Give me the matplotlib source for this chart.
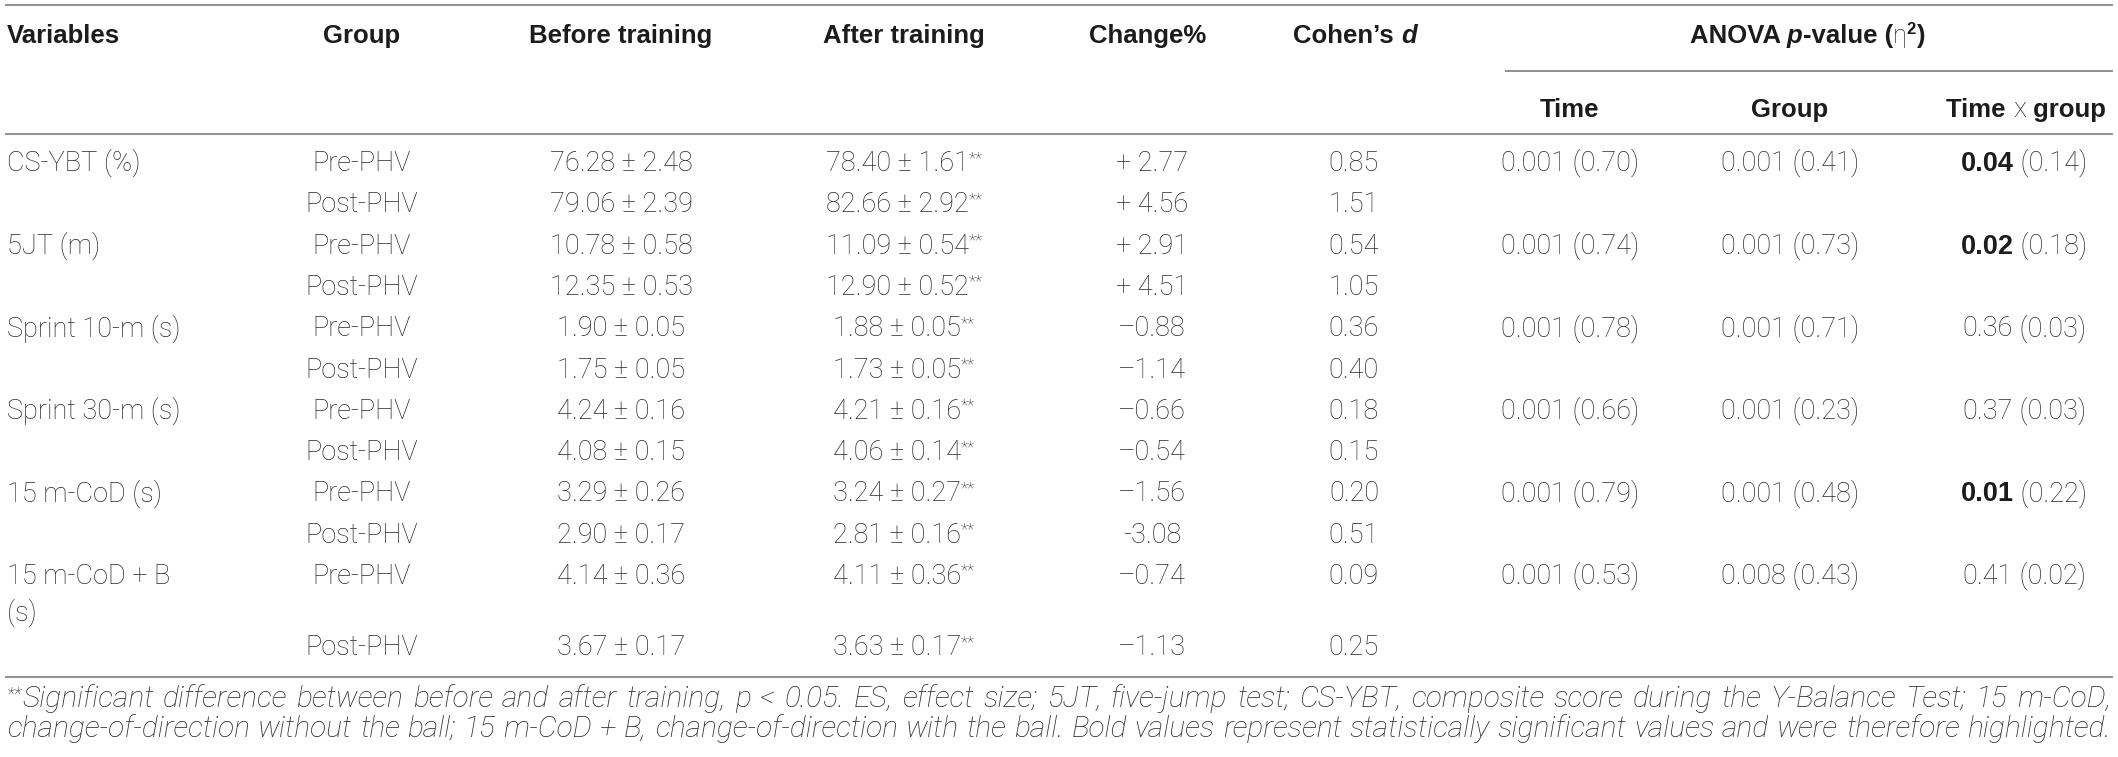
import matplotlib.pyplot as plt
from matplotlib.lines import Line2D

# table content
variables = ['CS-YBT (%)', '5JT (m)', 'Sprint 10-m (s)', 'Sprint 30-m (s)',
             '15 m-CoD (s)', '15 m-CoD + B']
groups = ['Pre-PHV', 'Post-PHV']
before = ['76.28 ± 2.48', '79.06 ± 2.39', '10.78 ± 0.58', '12.35 ± 0.53',
          '1.90 ± 0.05', '1.75 ± 0.05', '4.24 ± 0.16', '4.08 ± 0.15',
          '3.29 ± 0.26', '2.90 ± 0.17', '4.14 ± 0.36', '3.67 ± 0.17']
after = ['78.40 ± 1.61', '82.66 ± 2.92', '11.09 ± 0.54', '12.90 ± 0.52',
         '1.88 ± 0.05', '1.73 ± 0.05', '4.21 ± 0.16', '4.06 ± 0.14',
         '3.24 ± 0.27', '2.81 ± 0.16', '4.11 ± 0.36', '3.63 ± 0.17']
change = ['+ 2.77', '+ 4.56', '+ 2.91', '+ 4.51', '–0.88', '–1.14',
          '–0.66', '–0.54', '–1.56', '-3.08', '–0.74', '–1.13']
cohen_d = ['0.85', '1.51', '0.54', '1.05', '0.36', '0.40',
           '0.18', '0.15', '0.20', '0.51', '0.09', '0.25']
p_time = ['0.001 (0.70)', '0.001 (0.74)', '0.001 (0.78)', '0.001 (0.66)',
          '0.001 (0.79)', '0.001 (0.53)']
p_group = ['0.001 (0.41)', '0.001 (0.73)', '0.001 (0.71)', '0.001 (0.23)',
           '0.001 (0.48)', '0.008 (0.43)']
p_inter = ['0.04', '0.02', '0.36', '0.37', '0.01', '0.41']
eta_inter = ['(0.14)', '(0.18)', '(0.03)', '(0.03)', '(0.22)', '(0.02)']
inter_bold = [True, True, False, False, True, False]

footnote = [
    '**Significant difference between before and after training, p < 0.05. ES, effect size; '
    '5JT, five-jump test; CS-YBT, composite score during the Y-Balance Test; 15 m-CoD,',
    'change-of-direction without the ball; 15 m-CoD + B, change-of-direction with the ball. '
    'Bold values represent statistically significant values and were therefore highlighted.',
]

W, H = 2118, 757
fig = plt.figure(figsize=(W / 100, H / 100), dpi=100)
fig.patch.set_facecolor('white')
renderer = fig.canvas.get_renderer()

LIGHT = ['Roboto', 'DejaVu Sans']
BODY = dict(family=LIGHT, weight='light', size=17.5, color='#2a2a2a')
BOLD = dict(family=['Liberation Sans', 'DejaVu Sans'], weight='bold', size=18.5, color='#1c1c1c')


def tw(s, st):
    # width incl. spaces, measured between two bars
    t = fig.text(0, 0, '|' + s + '|', **st)
    w = t.get_window_extent(renderer).width
    t.set_text('||')
    w -= t.get_window_extent(renderer).width
    t.remove()
    return w


# match body text width to the reference ("0.001 (0.70)" is about 138 px wide)
BODY['size'] = BODY['size'] * 138 / tw('0.001 (0.70)', BODY)
BOLDIT = dict(BOLD, style='italic')
SUP = dict(BODY, size=BODY['size'] * 0.62)
BSUP = dict(BOLD, size=12)

# footnote: largest size for which both lines fit with normal word spacing
x0, x1 = 7, 2111
fsize = 22.0
while True:
    FOOT = dict(family=LIGHT, weight='light', style='italic', size=fsize, color='#2a2a2a')
    if max(tw(l, FOOT) for l in footnote) <= (x1 - x0) - 4:
        break
    fsize -= 0.2
FSUP = dict(FOOT, size=fsize * 0.62)


def runs_width(runs):
    return sum(tw(s, st) for s, st, _ in runs)


def draw_runs(x, y, runs, align='center'):
    total = runs_width(runs)
    if align == 'center':
        x = x - total / 2
    for s, st, rise in runs:
        fig.text(x / W, 1 - (y - rise) / H, s, ha='left', va='baseline', **st)
        x += tw(s, st)


def hline(y, xa=6, xb=2112):
    fig.add_artist(Line2D([xa / W, xb / W], [1 - y / H, 1 - y / H],
                          color='#8f8f8f', lw=1.4))


# rules
hline(5)
hline(71, 1506, 2112)
hline(134)
hline(677)

# header
hy = 43
draw_runs(7, hy, [('Variables', BOLD, 0)], align='left')
draw_runs(362, hy, [('Group', BOLD, 0)])
draw_runs(621, hy, [('Before training', BOLD, 0)])
draw_runs(904, hy, [('After training', BOLD, 0)])
draw_runs(1148, hy, [('Change%', BOLD, 0)])
draw_runs(1355, hy, [('Cohen’s ', BOLD, 0), ('d', BOLDIT, 0)])
draw_runs(1807, hy, [('ANOVA ', BOLD, 0), ('p', BOLDIT, 0), ('-value (', BOLD, 0),
                     ('η', dict(BODY, size=18.5), 0), ('2', BSUP, 9), (')', BOLD, 0)])
sy = 117
draw_runs(1570, sy, [('Time', BOLD, 0)])
draw_runs(1790, sy, [('Group', BOLD, 0)])
draw_runs(2026, sy, [('Time ', BOLD, 0), ('x', BODY, 0), (' group', BOLD, 0)])

# body rows
row_y = [171 + 41.3 * i for i in range(11)] + [655]
for i, yb in enumerate(row_y):
    v = i // 2
    if i % 2 == 0:
        draw_runs(7, yb, [(variables[v], BODY, 0)], align='left')
        if v == len(variables) - 1:
            draw_runs(7, 621, [('(s)', BODY, 0)], align='left')
        draw_runs(1570, yb, [(p_time[v], BODY, 0)])
        draw_runs(1790, yb, [(p_group[v], BODY, 0)])
        pst = BOLD if inter_bold[v] else BODY
        pst = dict(pst, size=BODY['size'])
        draw_runs(2024, yb, [(p_inter[v], pst, 0), (' ' + eta_inter[v], BODY, 0)])
    draw_runs(362, yb, [(groups[i % 2], BODY, 0)])
    draw_runs(621, yb, [(before[i], BODY, 0)])
    draw_runs(904, yb, [(after[i], BODY, 0), ('**', SUP, 8)])
    draw_runs(1152, yb, [(change[i], BODY, 0)])
    draw_runs(1354, yb, [(cohen_d[i], BODY, 0)])

# footnote, justified to the full width
for line, yb in zip(footnote, [707, 737]):
    items = []
    for w in line.split(' '):
        if w.startswith('**'):
            items.append([('**', FSUP, 7), (w[2:], FOOT, 0)])
        else:
            items.append([(w, FOOT, 0)])
    widths = [runs_width(r) for r in items]
    gap = (x1 - x0 - sum(widths)) / (len(items) - 1)
    x = x0
    for r, wd in zip(items, widths):
        draw_runs(x, yb, r, align='left')
        x += wd + gap

fig.savefig('out.png', dpi=100, facecolor='white')
